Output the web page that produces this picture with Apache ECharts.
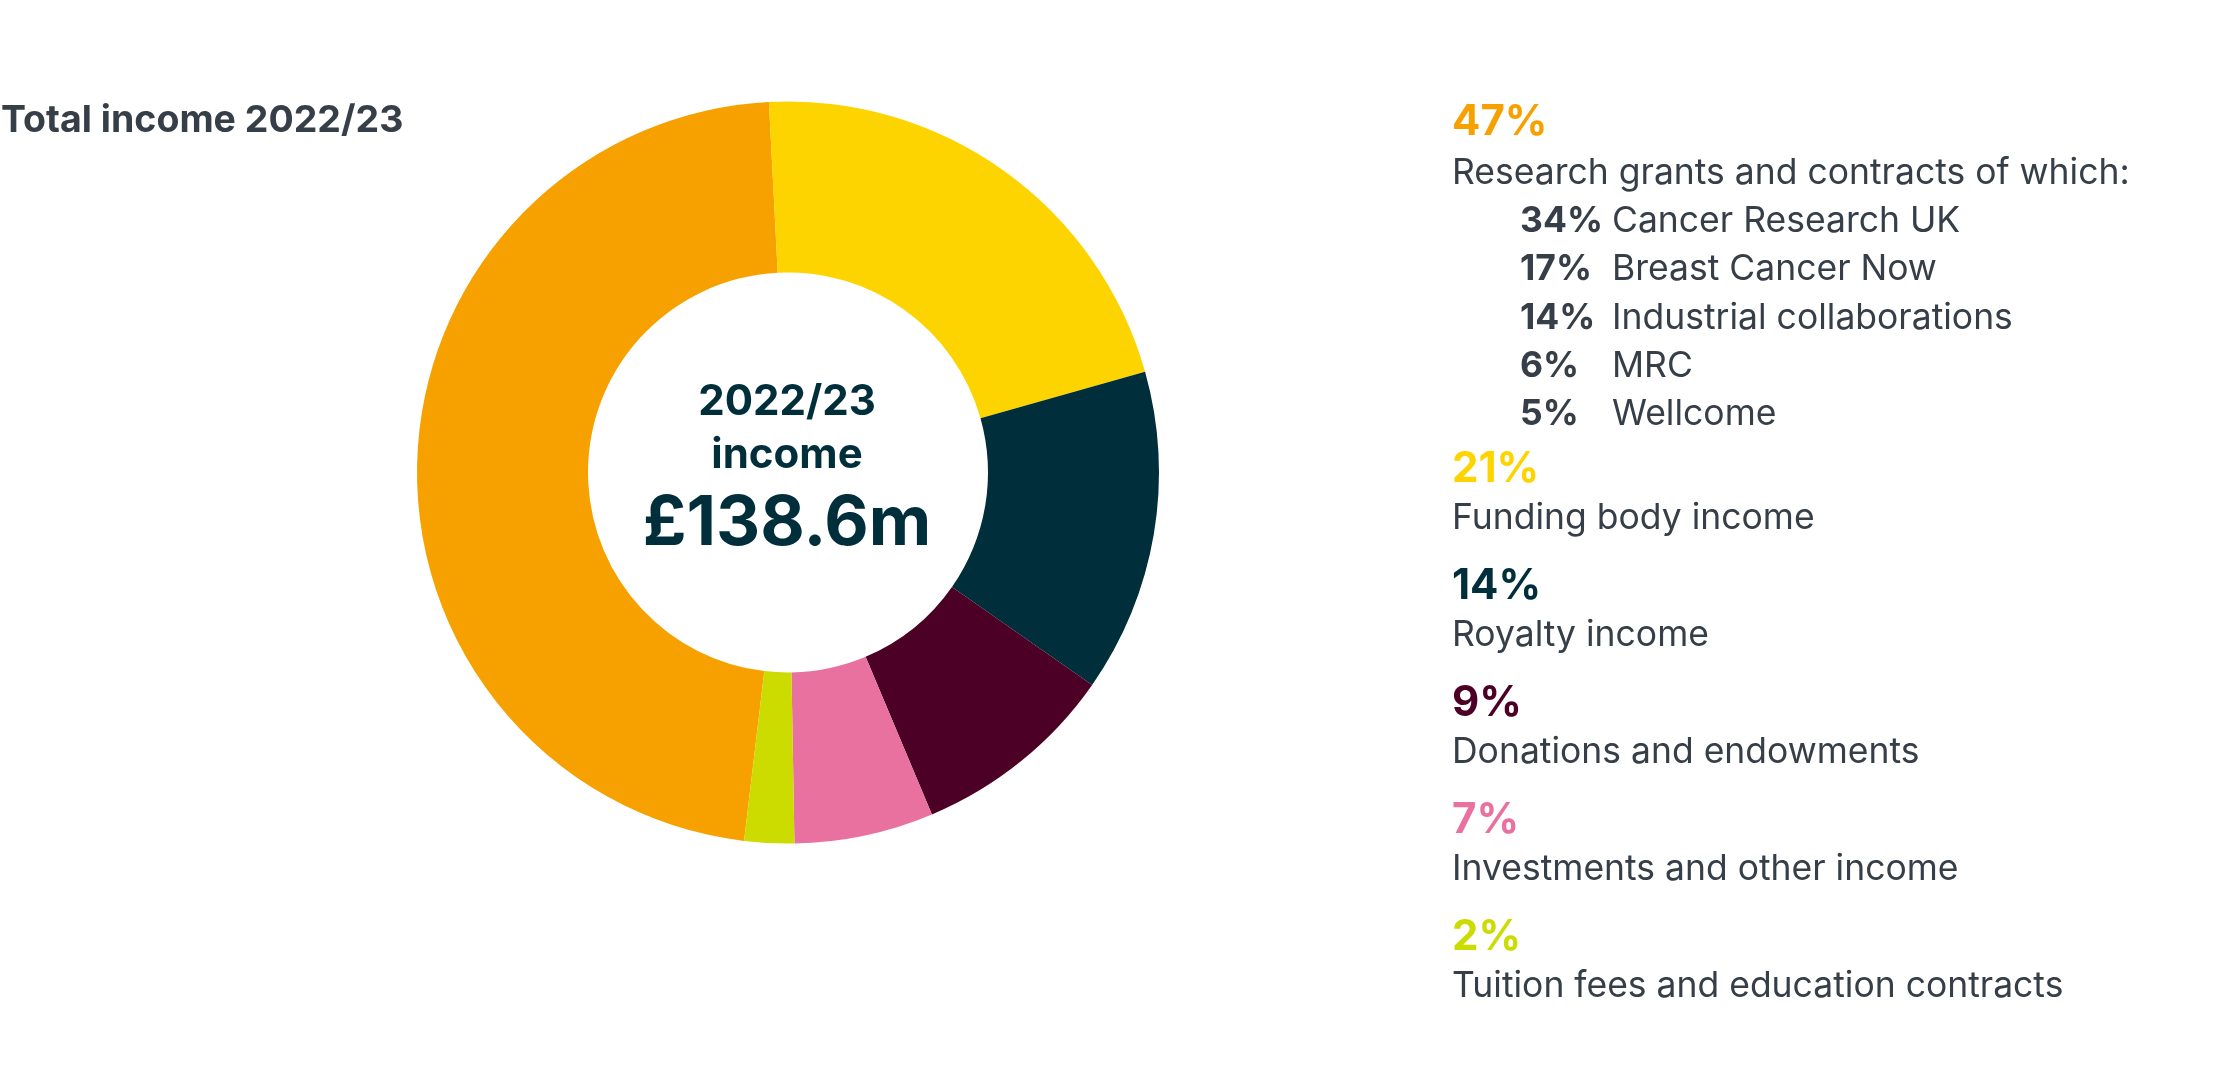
<!DOCTYPE html>
<html>
<head>
<meta charset="utf-8">
<title>Total income 2022/23</title>
<script src="https://cdn.jsdelivr.net/npm/echarts@6/dist/echarts.min.js"></script>
<style>
  html, body { margin: 0; padding: 0; background: #fff; }
  #chart { width: 2235px; height: 1082px; }
</style>
</head>
<body>
<div id="chart"></div>
<script>
'use strict';

/*-----------------------------------------------
|   Data
-----------------------------------------------*/
const chartTitle = 'Total income 2022/23';
const centerLines = ['2022/23', 'income', '£138.6m'];

const categories = [
  'Research grants and contracts of which:',
  'Funding body income',
  'Royalty income',
  'Donations and endowments',
  'Investments and other income',
  'Tuition fees and education contracts',
];
const pctLabels = ['47%', '21%', '14%', '9%', '7%', '2%'];
// £m
const incomeValues = [65.5, 29.7, 19.5, 12.4, 8.4, 3.0];

const subPcts = ['34%', '17%', '14%', '6%', '5%'];
const subLabels = [
  'Cancer Research UK',
  'Breast Cancer Now',
  'Industrial collaborations',
  'MRC',
  'Wellcome',
];

/*-----------------------------------------------
|   Style
-----------------------------------------------*/
const Colors = {
  SLICES: ['#F7A100', '#FDD400', '#002E3B', '#4D0026', '#E8719F', '#CCDC00'],
  TEXT: '#363E48',
  NAVY: '#002E3B',
};
const FONT = 'Inter, "Noto Sans", sans-serif';
const Layout = {
  CX: 788,
  CY: 472.5,
  R_IN: 200,
  R_OUT: 371,
  KEY_X: 1452,
  SUB_PCT_X: 1520,
  SUB_LABEL_X: 1612,
};

const chart = echarts.init(document.getElementById('chart'), null, {
  renderer: 'canvas',
});

const text = (str, x, y, size, weight, color, align) => ({
  type: 'text',
  silent: true,
  style: {
    text: str,
    x,
    y,
    fill: color,
    font: `${weight} ${size}px ${FONT}`,
    textAlign: align || 'left',
    textVerticalAlign: 'middle',
  },
});

// Build the key on the right, group by group
const graphics = [];
graphics.push(text(chartTitle, 1, 121, 37.5, 700, Colors.TEXT));

let y = 122;
categories.forEach((cat, i) => {
  graphics.push(text(pctLabels[i], Layout.KEY_X, y, 42, 700, Colors.SLICES[i]));
  y += i === 0 ? 51 : 49;
  graphics.push(text(cat, Layout.KEY_X, y, 35.5, 400, Colors.TEXT));
  if (i === 0) {
    subLabels.forEach((lbl, j) => {
      y += 48.3;
      graphics.push(text(subPcts[j], Layout.SUB_PCT_X, y, 35.5, 700, Colors.TEXT));
      graphics.push(text(lbl, Layout.SUB_LABEL_X, y, 35.5, 400, Colors.TEXT));
    });
    y += 54.5;
  } else {
    y += 68;
  }
});

// Centre of the donut
const centerX = 787;
graphics.push(text(centerLines[0], centerX, 402, 42, 700, Colors.NAVY, 'center'));
graphics.push(text(centerLines[1], centerX, 455, 42, 700, Colors.NAVY, 'center'));
graphics.push(text(centerLines[2], centerX, 524, 68.5, 700, Colors.NAVY, 'center'));

chart.setOption({
  animation: false,
  series: [
    {
      type: 'pie',
      center: [Layout.CX, Layout.CY],
      radius: [Layout.R_IN, Layout.R_OUT],
      startAngle: 263.2,
      clockwise: true,
      label: { show: false },
      labelLine: { show: false },
      emphasis: { disabled: true },
      itemStyle: { borderWidth: 0 },
      data: categories.map((name, i) => ({
        name,
        value: incomeValues[i],
        itemStyle: { color: Colors.SLICES[i] },
      })),
    },
  ],
  graphic: graphics,
});
</script>
</body>
</html>
